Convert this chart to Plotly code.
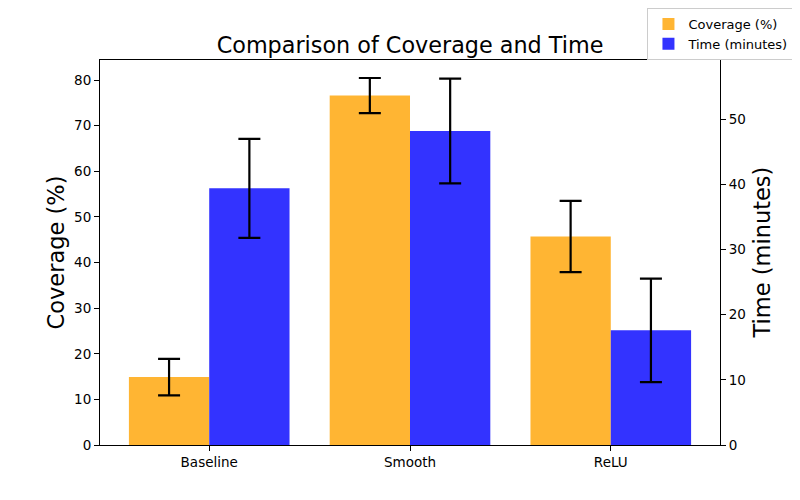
import plotly.graph_objects as go

categories = ["Baseline", "Smooth", "ReLU"]
coverage = [14.9, 76.6, 45.7]
coverage_err = [4.0, 3.85, 7.8]
time_min = [39.4, 48.2, 17.6]
time_err = [7.6, 8.05, 7.95]

xpos = list(range(len(categories)))
FONT = "DejaVu Sans"

fig = go.Figure()
fig.add_trace(go.Bar(
    x=xpos, y=coverage, name="Coverage (%)",
    width=0.4, offset=-0.4,
    marker=dict(color="rgb(255,181,51)", line=dict(width=0)),
    error_y=dict(type="data", array=coverage_err, color="black", thickness=2.2, width=11),
    yaxis="y",
))
fig.add_trace(go.Bar(
    x=xpos, y=time_min, name="Time (minutes)",
    width=0.4, offset=0,
    marker=dict(color="rgb(51,51,255)", line=dict(width=0)),
    error_y=dict(type="data", array=time_err, color="black", thickness=2.2, width=11),
    yaxis="y2",
))

fig.update_layout(
    width=792, height=492,
    margin=dict(l=92, r=80, t=52, b=55, autoexpand=False),
    paper_bgcolor="white", plot_bgcolor="white",
    font=dict(family=FONT, size=13.5, color="black"),
    barmode="overlay",
    title=dict(text="Comparison of Coverage and Time", x=0.5076, xanchor="center",
               xref="container", yref="container",
               y=0.925, yanchor="middle", font=dict(size=22.3, family=FONT)),
    xaxis=dict(range=[-0.544, 2.544], tickmode="array", tickvals=xpos, ticktext=categories,
               showline=True, linecolor="black", linewidth=1, mirror=True,
               ticks="outside", ticklen=5, tickcolor="black", showgrid=False, zeroline=False),
    yaxis=dict(range=[0, 84.4], tickvals=[0, 10, 20, 30, 40, 50, 60, 70, 80],
               showline=True, linecolor="black", linewidth=1,
               ticks="outside", ticklen=5, tickcolor="black", showgrid=False, zeroline=False),
    yaxis2=dict(overlaying="y", side="right", range=[0, 59.1],
                tickvals=[0, 10, 20, 30, 40, 50],
                showline=True, linecolor="black", linewidth=1,
                ticks="outside", ticklen=5, tickcolor="black", showgrid=False, zeroline=False),
    legend=dict(xref="container", yref="container", x=0.993, y=1.0, xanchor="right", yanchor="top",
                bgcolor="white", bordercolor="#cccccc", borderwidth=1, font=dict(size=13),
                traceorder="normal"),
    showlegend=True,
    annotations=[
        dict(text="Coverage (%)", xref="paper", yref="paper", x=-0.071, y=0.5,
             xanchor="center", yanchor="middle", textangle=-90, showarrow=False,
             font=dict(size=22.5, family=FONT)),
        dict(text="Time (minutes)", xref="paper", yref="paper", x=1.0677, y=0.5,
             xanchor="center", yanchor="middle", textangle=-90, showarrow=False,
             font=dict(size=22.5, family=FONT)),
    ],
)

fig.write_html("out.html")
